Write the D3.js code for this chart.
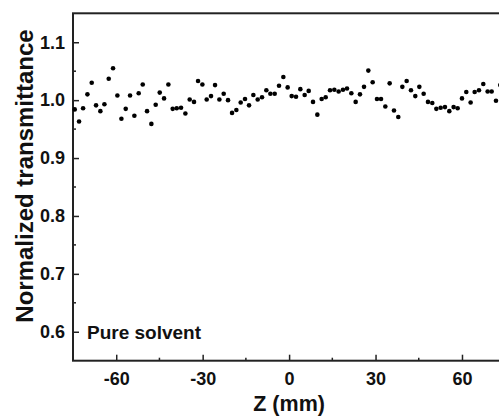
<!DOCTYPE html>
<html>
<head>
<meta charset="utf-8">
<script src="https://cdn.jsdelivr.net/npm/d3@7"></script>
<style>
  body { margin: 0; background: #fff; }
  text { font-family: "Liberation Sans", Arial, sans-serif; font-weight: bold; fill: #111; }
</style>
</head>
<body>
<div id="chart"></div>
<script>
// posicion Z (mm) de cada punto
var zPos = [-74.4, -72.9, -71.5, -70.0, -68.5, -67.0, -65.5, -64.1, -62.6, -61.1,
  -59.6, -58.2, -56.7, -55.2, -53.7, -52.2, -50.8, -49.3, -47.8, -46.3,
  -44.9, -43.4, -41.9, -40.4, -39.0, -37.5, -36.0, -34.5, -33.0, -31.6,
  -30.1, -28.6, -27.1, -25.7, -24.2, -22.7, -21.2, -19.8, -18.3, -16.8,
  -15.3, -13.9, -12.4, -10.9, -9.4, -7.9, -6.5, -5.0, -3.5, -2.0,
  -0.5, 0.9, 2.4, 3.9, 5.4, 6.8, 8.3, 9.8, 11.3, 12.7,
  14.2, 15.7, 17.2, 18.7, 20.1, 21.6, 23.1, 24.6, 26.0, 27.5,
  29.0, 30.5, 31.9, 33.4, 34.9, 36.4, 37.9, 39.3, 40.8, 42.3,
  43.8, 45.2, 46.7, 48.2, 49.7, 51.1, 52.6, 54.1, 55.6, 57.1,
  58.5, 60.0, 61.5, 63.0, 64.4, 65.9, 67.4, 68.9, 70.3, 71.8, 73.3];

// transmitancia normalizada
var transm = [0.984, 0.963, 0.986, 1.010, 1.030, 0.991, 0.981, 0.993, 1.037, 1.055,
  1.008, 0.968, 0.985, 1.008, 0.973, 1.012, 1.027, 0.981, 0.959, 0.992,
  1.013, 1.003, 1.027, 0.985, 0.986, 0.987, 0.977, 1.001, 0.997, 1.033,
  1.027, 1.001, 1.007, 1.026, 1.001, 1.011, 1.000, 0.978, 0.983, 0.996,
  1.002, 0.991, 1.009, 1.001, 1.005, 1.017, 1.011, 1.011, 1.025, 1.040,
  1.022, 1.007, 1.006, 1.019, 1.009, 1.016, 0.997, 0.975, 1.002, 1.005,
  1.017, 1.018, 1.015, 1.018, 1.020, 1.012, 0.997, 1.010, 1.023, 1.051,
  1.031, 1.002, 1.002, 0.989, 1.029, 0.982, 0.971, 1.023, 1.033, 1.017,
  1.007, 1.023, 1.011, 0.997, 0.995, 0.985, 0.987, 0.988, 0.981, 0.988,
  0.986, 1.003, 1.014, 0.996, 1.014, 1.017, 1.028, 1.015, 1.015, 0.999, 1.026];

var xTicks = [-60, -30, 0, 30, 60];
var xMinor = [-45, -15, 15, 45];
var yTicks = [0.6, 0.7, 0.8, 0.9, 1.0, 1.1];
var yMinor = [0.65, 0.75, 0.85, 0.95, 1.05];

var data = zPos.map(function(z, i) { return {z: z, t: transm[i]}; });

var W = 499, H = 417;
var margin = {top: 13.3, left: 73, bottom: 56.3};
var plotW = 432.2, plotH = H - margin.top - margin.bottom;

var svg = d3.select("#chart").append("svg")
  .attr("width", W).attr("height", H);

var x = d3.scaleLinear().domain([-75, 75]).range([margin.left, margin.left + plotW]);
var y = d3.scaleLinear().domain([0.55, 1.15]).range([margin.top + plotH, margin.top]);

// eje x (guion normal, no signo menos)
var gx = svg.append("g")
  .attr("transform", "translate(0," + (margin.top + plotH) + ")")
  .call(d3.axisBottom(x).tickValues(xTicks).tickSize(-6).tickPadding(12)
    .tickFormat(function(d) { return String(d); }));
gx.append("g").selectAll("line").data(xMinor).enter().append("line")
  .attr("x1", function(d) { return x(d); }).attr("x2", function(d) { return x(d); })
  .attr("y1", 0).attr("y2", -3);

// eje y
var gy = svg.append("g")
  .attr("transform", "translate(" + margin.left + ",0)")
  .call(d3.axisLeft(y).tickValues(yTicks).tickSize(-6).tickPadding(8)
    .tickFormat(d3.format(".1f")));
gy.append("g").selectAll("line").data(yMinor).enter().append("line")
  .attr("x1", 0).attr("x2", 3)
  .attr("y1", function(d) { return y(d); }).attr("y2", function(d) { return y(d); });

svg.selectAll(".domain").remove();
svg.selectAll(".tick line, g line").attr("stroke", "#222").attr("stroke-width", 1.5);
svg.selectAll(".tick text").style("font-size", "18px").attr("fill", "#111");

// marco
svg.append("rect")
  .attr("x", margin.left).attr("y", margin.top)
  .attr("width", plotW).attr("height", plotH)
  .attr("fill", "none").attr("stroke", "#222").attr("stroke-width", 2);

// puntos
svg.append("g").selectAll("circle").data(data).enter().append("circle")
  .attr("cx", function(d) { return x(d.z); })
  .attr("cy", function(d) { return y(d.t); })
  .attr("r", 2.3)
  .attr("fill", "#000");

// titulos
svg.append("text")
  .attr("x", x(0)).attr("y", 411)
  .attr("text-anchor", "middle")
  .style("font-size", "21.5px")
  .text("Z (mm)");

svg.append("text")
  .attr("transform", "translate(33," + 176 + ") rotate(-90)")
  .attr("text-anchor", "middle")
  .style("font-size", "24px")
  .text("Normalized transmittance");

svg.append("text")
  .attr("x", 87).attr("y", 339)
  .style("font-size", "19px")
  .text("Pure solvent");
</script>
</body>
</html>
